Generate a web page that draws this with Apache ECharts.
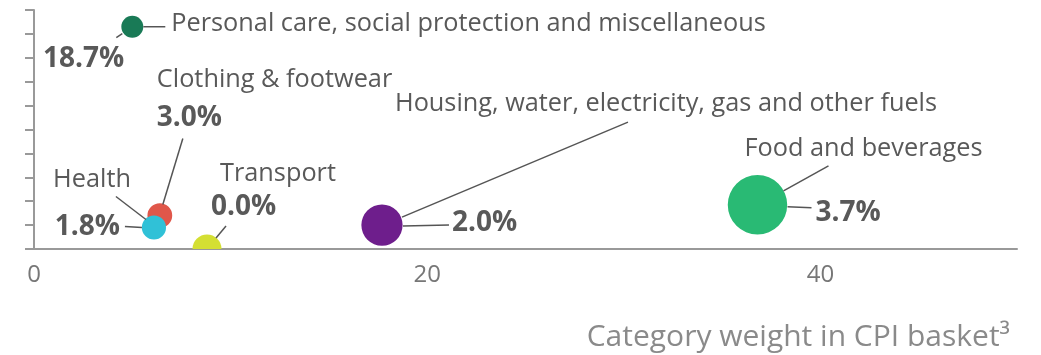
<!DOCTYPE html>
<html>
<head>
<meta charset="utf-8">
<script src="https://cdn.jsdelivr.net/npm/echarts@6/dist/echarts.min.js"></script>
<style>
  html, body { margin: 0; padding: 0; background: #fff; }
  #chart { width: 1041px; height: 355px; }
</style>
</head>
<body>
<div id="chart"></div>
<script>
// categories of the CPI basket
const categories = [
  "Food and beverages",
  "Housing, water, electricity, gas and other fuels",
  "Clothing & footwear",
  "Health",
  "Transport",
  "Personal care, social protection and miscellaneous"
];
const weights = [36.8, 17.7, 6.4, 6.1, 8.8, 5.0];      // x: weight in CPI basket
const yValues = [3.7, 2.0, 2.8, 1.8, 0.0, 18.6];       // y: position of bubble
const changeLabels = ["3.7%", "2.0%", "3.0%", "1.8%", "0.0%", "18.7%"];
const xTickMin = 0, xTickMax = 50, xTickStep = 20;

// styles
const colors = ["#29BA74", "#6E1E8C", "#E0574A", "#30C1D7", "#D4DF33", "#197A56"];
const FONT = "'Open Sans', 'Noto Sans', sans-serif";
const TXT = "#595959";
const BUBBLE_K = 4.9; // radius = k * sqrt(weight)

// label placement, pixel offsets from bubble centre
// line: [x1, y1, x2, y2]
const labelPos = [
  { name: { dx: -13, dy: -56, align: "left", line: [26, -14, 71, -39] },
    val:  { dx: 58, dy: 8, align: "left", line: [30, 2, 54, 3] } },
  { name: { dx: 13, dy: -121, align: "left", line: [20, -8, 246, -103] },
    val:  { dx: 70, dy: -2, align: "left", line: [21, 1, 67, 0] } },
  { name: { dx: -3, dy: -136, align: "left", line: null },
    val:  { dx: -3, dy: -98, align: "left", line: [3, -11, 23, -77] } },
  { name: { dx: -23, dy: -48, align: "right", line: [-8, -8, -38, -31] },
    val:  { dx: -34, dy: 0, align: "right", line: [-12, 0, -29, -1] } },
  { name: { dx: 13, dy: -75, align: "left", line: null },
    val:  { dx: 4, dy: -42, align: "left", line: [9, -11, 19, -23] } },
  { name: { dx: 39, dy: -3, align: "left", line: [11, 0, 33, 0] },
    val:  { dx: -8, dy: 32, align: "right", line: [-10, 7, -16, 11] } }
];

const seriesData = categories.map((c, i) => [weights[i], yValues[i], i]);

function lineEl(c, l) {
  return {
    type: "line",
    shape: { x1: c[0] + l[0], y1: c[1] + l[1], x2: c[0] + l[2], y2: c[1] + l[3] },
    style: { stroke: "#555", lineWidth: 1.5 }
  };
}

function renderItem(params, api) {
  const i = api.value(2);
  const c = api.coord([api.value(0), api.value(1)]);
  const r = Math.sqrt(api.value(0)) * BUBBLE_K;
  const lp = labelPos[i];
  const kids = [{
    type: "circle",
    shape: { cx: c[0], cy: c[1], r: r },
    style: { fill: colors[i] }
  }];
  if (lp.name.line) kids.push(lineEl(c, lp.name.line));
  if (lp.val.line) kids.push(lineEl(c, lp.val.line));
  kids.push({
    type: "text",
    style: {
      text: categories[i], x: c[0] + lp.name.dx, y: c[1] + lp.name.dy,
      align: lp.name.align, verticalAlign: "middle",
      fill: TXT, font: "normal 25.3px " + FONT
    }
  });
  kids.push({
    type: "text",
    style: {
      text: changeLabels[i], x: c[0] + lp.val.dx, y: c[1] + lp.val.dy,
      align: lp.val.align, verticalAlign: "middle",
      fill: TXT, font: "bold 28px " + FONT
    }
  });
  return { type: "group", children: kids };
}

const chart = echarts.init(document.getElementById("chart"));
chart.setOption({
  animation: false,
  title: {
    text: "Category weight in CPI basket\u00B3",
    right: 26, top: 317,
    textStyle: { color: "#8a8a8a", fontSize: 30, fontWeight: "normal", fontFamily: FONT }
  },
  grid: { left: 34, right: 24, top: 10, bottom: 106 },
  xAxis: {
    type: "value",
    min: xTickMin, max: xTickMax, interval: xTickStep,
    axisLine: { show: true, lineStyle: { color: "#999", width: 2 } },
    axisTick: { show: false },
    splitLine: { show: false },
    axisLabel: { color: "#777", fontSize: 24, fontFamily: FONT, margin: 14, showMaxLabel: false }
  },
  yAxis: {
    type: "value",
    min: 0, max: 20, interval: 2,
    axisLine: { show: true, lineStyle: { color: "#999", width: 2 } },
    axisTick: { show: true, length: 9, lineStyle: { color: "#999", width: 2 } },
    axisLabel: { show: false },
    splitLine: { show: false }
  },
  series: [{
    type: "custom",
    clip: true,
    renderItem: renderItem,
    data: seriesData
  }]
});
</script>
</body>
</html>
